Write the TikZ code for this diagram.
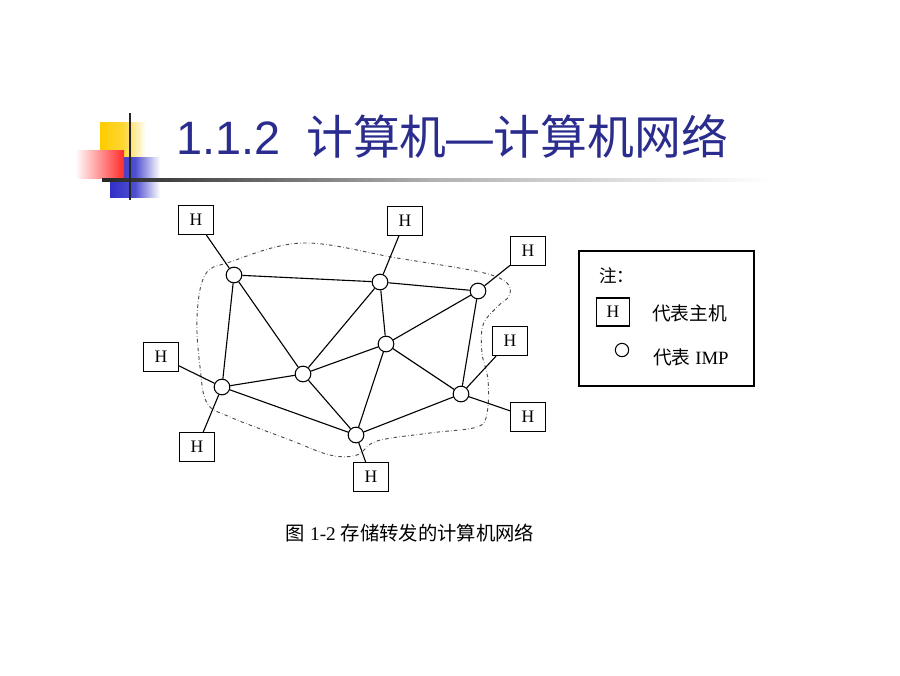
\documentclass[tikz,border=0pt]{standalone}
\usepackage{fontspec}
\setmainfont{Liberation Serif}
\newfontfamily\cjk{Noto Sans CJK SC}
\newfontfamily\titlefont{Liberation Sans}
\definecolor{titleblue}{HTML}{2B2D8E}
\definecolor{boxyellow}{HTML}{FFCC00}
\definecolor{boxred}{HTML}{FF2A2A}
\definecolor{boxblue}{HTML}{3030C8}
\begin{document}
\begin{tikzpicture}[x=0.03cm, y=-0.03cm,
            imp/.style={draw, circle, fill=white, line width=0.9pt, minimum size=0.47cm, inner sep=0pt},
            host/.style={draw, rectangle, fill=white, line width=0.9pt, minimum width=1.05cm, minimum height=0.87cm, inner sep=0pt, font=\fontsize{15}{15}\selectfont},
            link/.style={line width=0.95pt}]
            \useasboundingbox[fill=white] (0,0) rectangle (900,675);

            \shade[left color=boxyellow, right color=white, middle color=boxyellow!80] (100,122) rectangle (146,156);
            \shade[left color=boxblue, right color=white, middle color=boxblue!85] (110,157) rectangle (160,197);
            \shade[left color=white, right color=boxred] (75,150) rectangle (124,178);
            \shade[left color=black!85, right color=white, middle color=black!30] (102,178.5) rectangle (770,181.5);
            \draw[line width=1.6pt, black!85] (130,113) -- (130,200);
            \node[anchor=base west, text=titleblue, font=\fontsize{40}{40}\selectfont] (title) at (172,154)
                {{\titlefont 1.1.2}\hspace{0.55em}{\cjk 计算机}{\titlefont —}{\cjk 计算机网络}};

            \draw[dash dot, black!70, line width=0.8pt] plot[smooth cycle, tension=0.6] coordinates {
                (230,262) (303,243) (397,258) (480,272) (507,283) (509,296) (497,307)
                (483,325) (482,353) (488,380) (487,413) (477,427) (430,433) (377,441)
                (357,455) (330,455) (290,440) (230,417) (207,403) (200,367) (197,317) (205,275)};

            \node[imp] (a) at (234,275) {};
            \node[imp] (b) at (380,282) {};
            \node[imp] (c) at (478,291) {};
            \node[imp] (d) at (386,344) {};
            \node[imp] (e) at (303,374) {};
            \node[imp] (f) at (222,387) {};
            \node[imp] (g) at (461,394) {};
            \node[imp] (i) at (356,435) {};

            \node[host] (h1) at (196,220) {H};
            \node[host] (h2) at (405,221) {H};
            \node[host] (h3) at (528,251) {H};
            \node[host] (h4) at (161,357) {H};
            \node[host] (h5) at (510,341) {H};
            \node[host] (h6) at (528,417) {H};
            \node[host] (h7) at (197,447) {H};
            \node[host] (h8) at (371,477) {H};

            \draw[link] (h1) -- (a);
            \draw[link] (h2) -- (b);
            \draw[link] (h3) -- (c);
            \draw[link] (h4) -- (f);
            \draw[link] (h7) -- (f);
            \draw[link] (h5) -- (g);
            \draw[link] (h6) -- (g);
            \draw[link] (h8) -- (i);

            \draw[link] (a) -- (b);
            \draw[link] (a) -- (f);
            \draw[link] (a) -- (e);
            \draw[link] (b) -- (c);
            \draw[link] (b) -- (e);
            \draw[link] (b) -- (d);
            \draw[link] (c) -- (d);
            \draw[link] (c) -- (g);
            \draw[link] (d) -- (e);
            \draw[link] (d) -- (g);
            \draw[link] (d) -- (i);
            \draw[link] (e) -- (f);
            \draw[link] (e) -- (i);
            \draw[link] (f) -- (i);
            \draw[link] (g) -- (i);

            \node[draw, line width=0.9pt, minimum width=5.25cm, minimum height=4.05cm, inner sep=0pt] (legend) at (666.5,318.5) {};
            \node[anchor=west, font=\fontsize{15}{15}\selectfont] (note) at (595,276) {\cjk 注：};
            \node[host, minimum width=0.99cm, minimum height=0.84cm] (hkey) at (613,312) {H};
            \node[anchor=west, font=\fontsize{16}{16}\selectfont] (hlabel) at (648,313) {\cjk 代表主机};
            \node[imp, minimum size=0.4cm] (impkey) at (622,350) {};
            \node[anchor=west, font=\fontsize{16}{16}\selectfont] (implabel) at (649,357) {{\cjk 代表} IMP};

            \node[font=\fontsize{16.5}{16.5}\selectfont] (caption) at (410,533) {{\cjk 图}\ 1-2\ {\cjk 存储转发的计算机网络}};
      \end{tikzpicture}
\end{document}
